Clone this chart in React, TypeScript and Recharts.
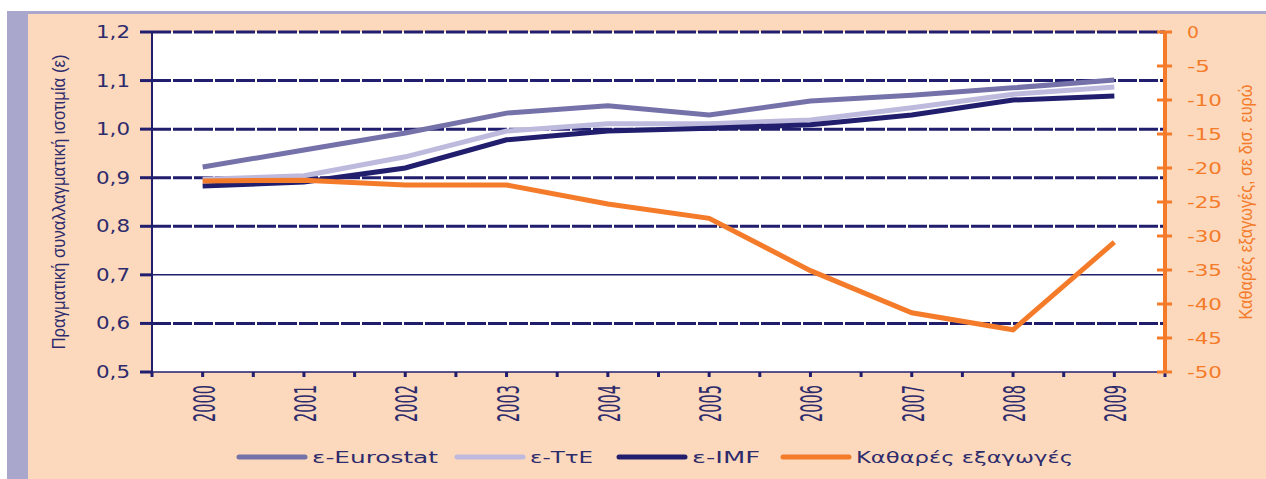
import { LineChart, Line, XAxis, YAxis, CartesianGrid, ReferenceLine } from "recharts";

const years = ["2000", "2001", "2002", "2003", "2004", "2005", "2006", "2007", "2008", "2009"];
const eurostat = [0.922, 0.957, 0.992, 1.033, 1.048, 1.029, 1.058, 1.07, 1.085, 1.101];
const tte = [0.897, 0.904, 0.943, 0.996, 1.011, 1.011, 1.019, 1.044, 1.072, 1.087];
const imf = [0.883, 0.891, 0.92, 0.978, 0.996, 1.002, 1.009, 1.029, 1.06, 1.068];
const netExports = [-21.9, -21.8, -22.5, -22.5, -25.3, -27.4, -35.1, -41.3, -43.8, -30.9];
const leftTicks = [0.5, 0.6, 0.7, 0.8, 0.9, 1.0, 1.1, 1.2];
const rightTicks = [-50, -45, -40, -35, -30, -25, -20, -15, -10, -5, 0];

const navy = "#221e6e";
const orange = "#f47b2a";
const peach = "#fcd9bd";
const lavender = "#aaa7cc";

const rows = years.map((year, i) => ({
	year,
	eurostat: eurostat[i],
	tte: tte[i],
	imf: imf[i],
	net: netExports[i],
}));

const legendItems = [
	{ name: "ε-Eurostat", color: "#7571a9", x: 237, textLen: 126 },
	{ name: "ε-ΤτΕ", color: "#bdbade", x: 455, textLen: 63 },
	{ name: "ε-IMF", color: navy, x: 617, textLen: 68 },
	{ name: "Καθαρές εξαγωγές", color: orange, x: 781, textLen: 217 },
];

const half = 50.65;

function LeftTick({ x, y, payload }: any) {
	const label = payload.value.toFixed(1).replace(".", ",");
	return (
		<text x={x} y={y + 6} textAnchor="end" fill="#2e2b6c" fontSize={17}
			fontFamily="DejaVu Sans" textLength={34} lengthAdjust="spacingAndGlyphs">
			{label}
		</text>
	);
}

function RightTick({ x, y, payload }: any) {
	const label = String(payload.value);
	const len = label.replace("-", "").length * 12 + (label.startsWith("-") ? 11 : 0);
	return (
		<g>
			<line x1={x - 30} x2={x - 15} y1={y} y2={y} stroke={orange} strokeWidth={3} />
			<text x={x} y={y + 6} fill={orange} fontSize={16} fontFamily="DejaVu Sans"
				textLength={len} lengthAdjust="spacingAndGlyphs">
				{label}
			</text>
		</g>
	);
}

function XTick({ x, y, payload, index }: any) {
	const ay = y - 4;
	const marks = [x - half, x];
	if (index === years.length - 1) marks.push(x + half);
	return (
		<g>
			{marks.map((m, i) => (
				<rect key={i} x={m - 1.5} y={ay} width={3} height={5} fill={navy} />
			))}
			<text x={x + 12} y={385} transform={`rotate(-90, ${x + 12}, 385)`} textAnchor="end"
				fill="#2e2b6c" fontSize={30} fontFamily="DejaVu Sans"
				textLength={37} lengthAdjust="spacingAndGlyphs">
				{payload.value}
			</text>
		</g>
	);
}

export default function App() {
	return (
		<div style={{ position: "absolute", left: 0, top: 0, width: 1266, height: 479, background: "#fff", overflow: "hidden" }}>
			<div style={{ position: "absolute", left: 7, top: 11, width: 1259, height: 468, background: lavender }} />
			<div style={{ position: "absolute", left: 28, top: 14, width: 1238, height: 465, background: peach }} />
			<div style={{ position: "absolute", left: 0, top: 0 }}>
				<LineChart width={1266} height={479} data={rows} margin={{ top: 32, right: 0, bottom: 0, left: 0 }}>
					<CartesianGrid yAxisId="left" fill="#fff" fillOpacity={1} stroke="none" horizontal={false} vertical={false} />
					<XAxis dataKey="year" padding={{ left: half, right: half }} height={107} interval={0}
						tick={<XTick />} tickLine={false} tickSize={4} tickMargin={0}
						axisLine={{ stroke: navy, strokeWidth: 1.5 }} />
					<YAxis yAxisId="left" width={152} domain={[0.5, 1.2]} ticks={leftTicks} interval={0}
						tick={<LeftTick />} tickSize={12} tickMargin={10}
						tickLine={{ stroke: navy, strokeWidth: 3 }} axisLine={{ stroke: navy, strokeWidth: 2 }} />
					<YAxis yAxisId="right" orientation="right" width={101} domain={[-50, 0]} ticks={rightTicks}
						interval={0} tick={<RightTick />} tickSize={8} tickMargin={14} tickLine={false}
						axisLine={{ stroke: orange, strokeWidth: 4 }} />
					{leftTicks.filter((v) => v > 0.5).map((v) => (
						<ReferenceLine key={v} yAxisId="left" y={v} stroke={navy}
							strokeWidth={v === 0.7 ? 1.5 : 3}
							strokeDasharray={v === 0.7 ? undefined : "19 2"} />
					))}
					<Line yAxisId="left" dataKey="eurostat" stroke={legendItems[0].color} strokeWidth={5}
						dot={false} activeDot={false} isAnimationActive={false} />
					<Line yAxisId="left" dataKey="tte" stroke={legendItems[1].color} strokeWidth={5}
						dot={false} activeDot={false} isAnimationActive={false} />
					<Line yAxisId="left" dataKey="imf" stroke={legendItems[2].color} strokeWidth={5}
						dot={false} activeDot={false} isAnimationActive={false} />
					<Line yAxisId="right" dataKey="net" stroke={orange} strokeWidth={5}
						dot={false} activeDot={false} isAnimationActive={false} />
				</LineChart>
			</div>
			<svg width={1266} height={479} style={{ position: "absolute", left: 0, top: 0, pointerEvents: "none" }}>
				<text x={65} y={202} transform="rotate(-90, 65, 202)" textAnchor="middle" fill="#2e2b6c"
					fontSize={18} fontFamily="Liberation Sans" textLength={295} lengthAdjust="spacingAndGlyphs">
					Πραγματική συναλλαγματική ισοτιμία (ε)
				</text>
				<text x={1252} y={202} transform="rotate(-90, 1252, 202)" textAnchor="middle" fill={orange}
					fontSize={19} fontFamily="Liberation Sans" textLength={235} lengthAdjust="spacingAndGlyphs">
					Καθαρές εξαγωγές, σε δισ. ευρώ
				</text>
				{legendItems.map((it) => (
					<g key={it.name}>
						<line x1={it.x + 2} x2={it.x + 68} y1={457} y2={457} stroke={it.color} strokeWidth={5}
							strokeLinecap="round" />
						<text x={it.x + 75} y={463} fill="#2e2b6c" fontSize={16.5} fontFamily="DejaVu Sans"
							textLength={it.textLen} lengthAdjust="spacingAndGlyphs">
							{it.name}
						</text>
					</g>
				))}
			</svg>
		</div>
	);
}
